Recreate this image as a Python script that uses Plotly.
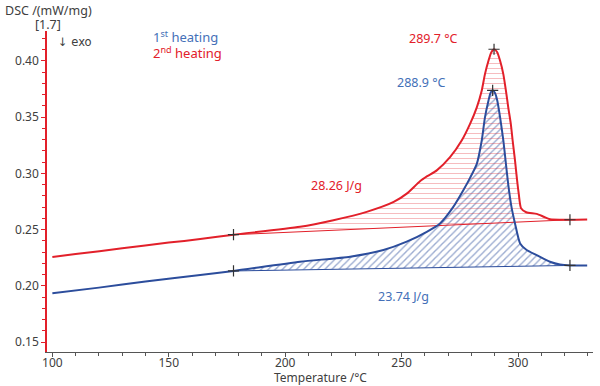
import plotly.graph_objects as go

# ---- data ----
red_T = [100, 110, 130, 150, 163.5, 177.8, 206.4, 220.7, 235, 246.6, 252.2, 257.9, 261.0,
         265.1, 270.8, 275.8, 279.4, 282.3, 284.4, 285.8, 287.3, 288.5, 289.7, 291.0, 292.3,
         293.7, 294.8, 295.8, 296.9, 297.7, 298.7, 299.6, 300.3, 301.3, 303.5, 308.0, 311.0,
         313.7, 322.3, 329.7]
red_v = [0.2258, 0.2283, 0.2334, 0.2385, 0.2416, 0.2455, 0.2525, 0.2584, 0.2658, 0.2746,
         0.2820, 0.2930, 0.2975, 0.3027, 0.3144, 0.3292, 0.3440, 0.3587, 0.3735, 0.3882,
         0.4000, 0.4075, 0.4103, 0.4078, 0.4000, 0.3880, 0.3735, 0.3587, 0.3440, 0.3290,
         0.3115, 0.2938, 0.2820, 0.2690, 0.2655, 0.2640, 0.2615, 0.2592, 0.2588, 0.2590]

blue_T = [100, 120, 140, 163.5, 177.8, 206.4, 227.9, 242.2, 252.2, 260.8, 266.5, 272.2,
          276.5, 279.4, 282.3, 284.4, 285.8, 287.3, 288.2, 289.1, 290.1, 291.1, 292.3, 293.7,
          294.8, 295.8, 297.2, 298.7, 300.9, 303.7, 308.0, 313.7, 318.0, 322.3, 329.7]
blue_v = [0.1935, 0.1985, 0.2040, 0.2097, 0.2133, 0.2215, 0.2260, 0.2319, 0.2393, 0.2481,
          0.2555, 0.2702, 0.2850, 0.2960, 0.3085, 0.3290, 0.3498, 0.3646, 0.3715, 0.3738,
          0.3715, 0.3646, 0.3498, 0.3290, 0.3085, 0.2900, 0.2700, 0.2555, 0.2378, 0.2319,
          0.2274, 0.2215, 0.2190, 0.2182, 0.2182]

red_base_T = [177.8, 322.3]
red_base_v = [0.2455, 0.2588]
blue_base_T = [177.8, 322.3]
blue_base_v = [0.2133, 0.2182]

red_peak = (289.7, 0.4103)
blue_peak = (289.1, 0.3738)

RED = "#e2202a"
BLUE = "#2c4d9c"
BLUE_TXT = "#4470b8"
GRAY = "#404040"


def region(T, v, bT, bv):
    xs = [bT[0]] + [t for t in T if bT[0] < t < bT[1]] + [bT[1]]
    ys = [bv[0]] + [y for t, y in zip(T, v) if bT[0] < t < bT[1]] + [bv[1]]
    return xs + [bT[1], bT[0]], ys + [bv[1], bv[0]]


fig = go.Figure()

# hatched areas
bx, by = region(blue_T, blue_v, blue_base_T, blue_base_v)
fig.add_trace(go.Scatter(x=bx, y=by, mode="lines", fill="toself",
                         line=dict(width=0, color=BLUE), fillcolor="rgba(0,0,0,0)",
                         fillpattern=dict(shape="/", fgcolor="rgba(44,77,156,0.95)",
                                          bgcolor="rgba(0,0,0,0)", size=5, solidity=0.28),
                         hoverinfo="skip", showlegend=False))
rx, ry = region(red_T, red_v, red_base_T, red_base_v)
fig.add_trace(go.Scatter(x=rx, y=ry, mode="lines", fill="toself",
                         line=dict(width=0, color=RED), fillcolor="rgba(0,0,0,0)",
                         fillpattern=dict(shape="-", fgcolor="rgba(226,32,42,0.6)",
                                          bgcolor="rgba(0,0,0,0)", size=5, solidity=0.2),
                         hoverinfo="skip", showlegend=False))

# baselines
fig.add_trace(go.Scatter(x=blue_base_T, y=blue_base_v, mode="lines",
                         line=dict(color=BLUE, width=1), showlegend=False))
fig.add_trace(go.Scatter(x=red_base_T, y=red_base_v, mode="lines",
                         line=dict(color=RED, width=1), showlegend=False))

# curves
fig.add_trace(go.Scatter(x=blue_T, y=blue_v, mode="lines",
                         line=dict(color=BLUE, width=2, shape="spline", smoothing=0.6),
                         showlegend=False))
fig.add_trace(go.Scatter(x=red_T, y=red_v, mode="lines",
                         line=dict(color=RED, width=2, shape="spline", smoothing=0.6),
                         showlegend=False))

# + markers
mx = red_base_T + blue_base_T + [red_peak[0], blue_peak[0]]
my = red_base_v + blue_base_v + [red_peak[1], blue_peak[1]]
fig.add_trace(go.Scatter(x=mx, y=my, mode="markers",
                         marker=dict(symbol="cross-thin", size=8,
                                     line=dict(color="#333333", width=1.2)),
                         showlegend=False))

FONT = "Noto Sans"
ann = [
    dict(x=(48 - 47) / 546, y=(352.5 - 9) / 322.5, xref="paper", yref="paper",
         text="DSC /(mW/mg)", font=dict(size=12.5, color=GRAY)),
    dict(x=(48 - 47) / 546, y=(352.5 - 23.5) / 322.5, xref="paper", yref="paper",
         text="[1.7]", font=dict(size=12.5, color=GRAY)),
    dict(x=(56 - 47) / 546, y=(352.5 - 41) / 322.5, xref="paper", yref="paper",
         text="↓ exo", xanchor="left",
         font=dict(size=11.5, color=GRAY, family="DejaVu Sans")),
    dict(x=(151 - 47) / 546, y=(352.5 - 36) / 322.5, xref="paper", yref="paper",
         text="1<sup>st</sup> heating", xanchor="left", font=dict(size=13, color=BLUE_TXT)),
    dict(x=(151 - 47) / 546, y=(352.5 - 52) / 322.5, xref="paper", yref="paper",
         text="2<sup>nd</sup> heating", xanchor="left", font=dict(size=13, color=RED)),
    dict(x=(320 - 47) / 546, y=(352.5 - 378.5) / 322.5, xref="paper", yref="paper",
         text="Temperature /°C", font=dict(size=12, color=GRAY)),
    dict(x=263.9, y=0.4195, text="289.7 °C", font=dict(size=12.5, color=RED)),
    dict(x=258.4, y=0.3805, text="288.9 °C", font=dict(size=12.5, color=BLUE_TXT)),
    dict(x=222.1, y=0.2894, text="28.26 J/g", font=dict(size=12.5, color=RED)),
    dict(x=250.9, y=0.1903, text="23.74 J/g", font=dict(size=12.5, color=BLUE_TXT)),
]
for a in ann:
    a.setdefault("xref", "x")
    a.setdefault("yref", "y")
    a.setdefault("xanchor", "center")
    a["yanchor"] = "middle"
    a["showarrow"] = False

fig.update_layout(
    width=600, height=386,
    margin=dict(l=47, r=7, t=31, b=33.5),
    plot_bgcolor="white", paper_bgcolor="white",
    font=dict(family=FONT, size=12, color=GRAY),
    annotations=ann,
    xaxis=dict(range=[97.7, 332.2], showgrid=False, zeroline=False,
               showline=True, linecolor="#555555", linewidth=1,
               tick0=100, dtick=50, ticks="outside", ticklen=4, tickcolor="#555555",
               ticklabelstandoff=-4,
               minor=dict(dtick=10, ticks="outside", ticklen=3, tickcolor="#555555"),
               tickfont=dict(size=12, color=GRAY)),
    yaxis=dict(range=[0.1413, 0.4265], showgrid=False, zeroline=False,
               showline=True, linecolor=RED, linewidth=1.5,
               tick0=0.15, dtick=0.05, tickformat=".2f",
               ticks="outside", ticklen=4, tickcolor=RED,
               minor=dict(dtick=0.01, ticks="outside", ticklen=3, tickcolor=RED),
               tickfont=dict(size=12, color=GRAY)),
)

fig.write_html("out.html", config={"displayModeBar": False},
               post_script="document.body.style.margin='0px';document.body.style.padding='0px';")
